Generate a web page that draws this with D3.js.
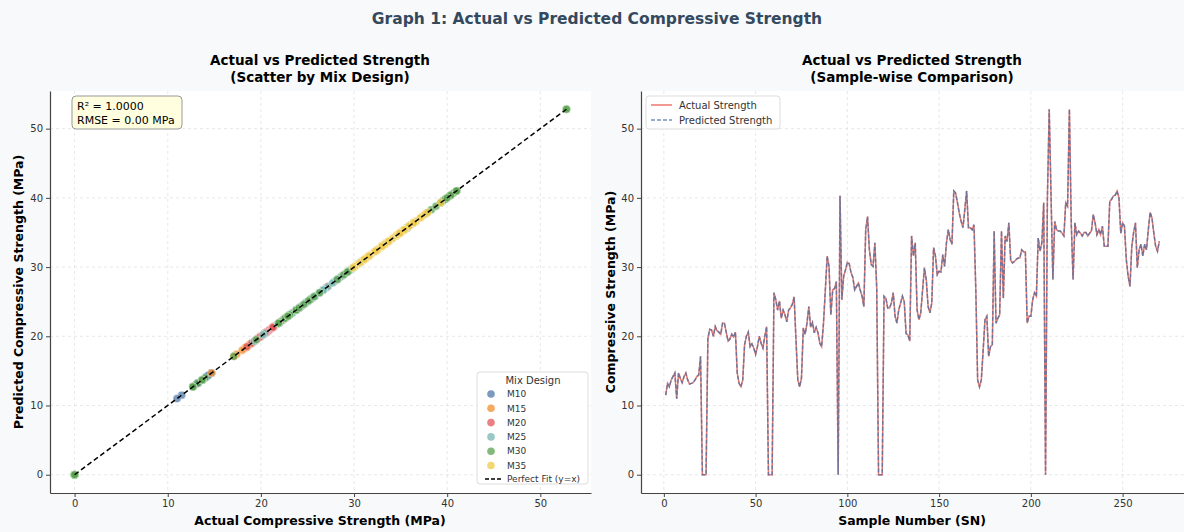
<!DOCTYPE html>
<html>
<head>
<meta charset="utf-8">
<script src="https://cdn.jsdelivr.net/npm/d3@7"></script>
<style>
  body { margin: 0; background: #f8f9fa; }
  svg { display: block; font-family: "DejaVu Sans", sans-serif; }
</style>
</head>
<body>
<div id="chart"></div>
<script>
// Actual strength per sample (SN 1..270)
const actual = [
  11.5, 13.2, 12.7, 13.7, 14.2, 14.7, 11.0, 14.7, 13.9, 13.3, 14.2, 14.7, 13.7, 13.1, 13.2, 13.3, 13.7, 14.2, 14.4, 17.1,
  0, 0, 0, 19.7, 21.0, 20.9, 20.0, 21.4, 20.8, 20.6, 20.3, 21.9, 21.9, 20.6, 19.3, 19.6, 20.3, 19.9, 20.6, 14.7,
  13.2, 12.7, 13.7, 18.8, 20.0, 20.6, 18.5, 18.9, 18.3, 17.4, 18.5, 20.0, 19.0, 18.3, 20.0, 21.4, 0, 0, 0, 26.3,
  25.3, 23.8, 25.1, 22.6, 23.8, 23.1, 22.1, 23.8, 24.1, 24.6, 25.7, 19.5, 13.7, 12.7, 14.0, 21.2, 20.3, 21.9, 24.3, 21.3,
  22.0, 20.5, 21.3, 20.5, 19.0, 18.5, 21.9, 26.7, 31.6, 30.1, 23.1, 26.7, 26.9, 27.9, 0, 40.3, 25.3, 28.7, 29.6, 30.7,
  30.5, 29.2, 28.5, 26.7, 27.2, 27.7, 26.7, 25.8, 24.3, 35.4, 37.3, 32.5, 30.4, 30.1, 33.5, 27.0, 0, 0, 0, 25.8,
  25.5, 24.1, 24.1, 24.8, 26.3, 22.9, 21.9, 23.8, 24.8, 25.8, 25.0, 20.4, 20.2, 19.3, 34.5, 31.6, 33.5, 23.8, 22.4, 23.4,
  26.7, 29.9, 28.2, 24.3, 23.4, 24.8, 32.8, 31.6, 28.9, 29.4, 29.3, 31.8, 30.1, 33.5, 35.4, 34.0, 33.3, 41.0, 40.7, 39.3,
  37.8, 36.6, 35.7, 38.3, 41.0, 35.7, 35.7, 35.4, 36.1, 26.7, 13.7, 12.7, 13.7, 18.0, 22.4, 22.9, 17.1, 18.5, 18.8, 35.2,
  21.9, 22.6, 23.1, 35.2, 25.5, 34.5, 33.7, 36.4, 31.0, 30.6, 30.8, 31.1, 31.3, 31.3, 32.5, 32.2, 32.2, 21.9, 22.9, 22.9,
  25.3, 26.3, 25.8, 34.2, 32.3, 33.5, 39.3, 0, 39.8, 52.8, 40.3, 28.2, 36.6, 35.4, 35.2, 35.2, 34.9, 34.5, 39.3, 38.8,
  52.8, 36.4, 28.2, 36.4, 34.7, 35.2, 34.9, 34.5, 35.0, 35.0, 34.5, 34.9, 35.2, 37.6, 36.4, 34.7, 35.4, 34.7, 35.9, 33.0,
  33.0, 33.0, 39.5, 39.8, 40.3, 40.4, 41.0, 40.0, 34.9, 36.4, 35.9, 31.1, 28.7, 27.2, 33.0, 35.0, 36.4, 29.9, 32.5, 33.3,
  31.6, 33.3, 32.5, 35.4, 37.9, 37.1, 34.9, 33.0, 32.3, 33.7
];
// model output overlaps the actual curve exactly (R² = 1, RMSE = 0)
const predicted = actual.slice();

// mix design of consecutive samples: [mix, count]
const mixRuns = [
  ["M10", 19], ["M30", 4], ["M20", 8], ["M25", 2], ["M20", 6], ["M15", 1], ["M30", 3],
  ["M15", 13], ["M30", 3], ["M30", 12], ["M30", 4], ["M20", 12], ["M25", 7], ["M30", 2],
  ["M25", 13], ["M35", 6], ["M20", 1], ["M30", 3], ["M25", 15],
  ["M35", 3], ["M25", 9], ["M35", 2], ["M30", 3], ["M35", 6],
  ["M30", 12], ["M15", 1], ["M30", 3], ["M15", 6],
  ["M35", 1], ["M30", 3], ["M35", 1], ["M25", 1], ["M35", 12], ["M30", 3], ["M25", 3], ["M35", 4],
  ["M30", 4], ["M30", 1], ["M35", 6], ["M30", 3],
  ["M35", 1], ["M20", 1], ["M35", 19],
  ["M30", 6], ["M35", 4], ["M15", 2], ["M35", 16]
];

const mixes = ["M10", "M15", "M20", "M25", "M30", "M35"];
const mixColors = ["#4e79a7", "#f28e2b", "#e15759", "#76b7b2", "#59a14f", "#edc948"];
const strengthTicks = [0, 10, 20, 30, 40, 50];
const sampleTicks = [0, 50, 100, 150, 200, 250];

// one mix label per sample
const mixOf = [];
mixRuns.forEach(([m, n]) => { for (let k = 0; k < n; k++) mixOf.push(m); });

const samples = actual.map((v, i) => ({ sn: i + 1, actual: v, predicted: predicted[i], mix: mixOf[i] }));

const width = 1184, height = 532;
const svg = d3.select("#chart").append("svg")
  .attr("width", width).attr("height", height);

svg.append("rect").attr("width", width).attr("height", height).attr("fill", "#f8f9fa");

// Títol general
svg.append("text")
  .attr("x", 597).attr("y", 24)
  .attr("text-anchor", "middle")
  .style("font-size", "15.5px").style("font-weight", "bold")
  .style("fill", "#34495e")
  .text("Graph 1: Actual vs Predicted Compressive Strength");

// Escales
const maxV = d3.max(actual), padV = maxV * 0.05;
const xA = d3.scaleLinear().domain([-padV, maxV + padV]).range([50, 591]);
const yA = d3.scaleLinear().domain([-padV, maxV + padV]).range([493, 91]);
const nS = samples.length, padS = (nS - 1) * 0.05;
const xS = d3.scaleLinear().domain([1 - padS, nS + padS]).range([641, 1184]);
const yS = yA.copy();

function panel(x, y, xTicks, yTicks) {
  const [x0, x1] = x.range(), [y1, y0] = y.range();
  const g = svg.append("g");
  g.append("rect").attr("x", x0).attr("y", y0).attr("width", x1 - x0).attr("height", y1 - y0).attr("fill", "#fff");
  // grid
  g.selectAll("line.gx").data(xTicks).enter().append("line")
    .attr("x1", d => x(d)).attr("x2", d => x(d)).attr("y1", y0).attr("y2", y1)
    .attr("stroke", "#d0d0d0").attr("stroke-width", 0.8).attr("stroke-dasharray", "3,3").attr("opacity", 0.6);
  g.selectAll("line.gy").data(yTicks).enter().append("line")
    .attr("y1", d => y(d)).attr("y2", d => y(d)).attr("x1", x0).attr("x2", x1)
    .attr("stroke", "#d0d0d0").attr("stroke-width", 0.8).attr("stroke-dasharray", "3,3").attr("opacity", 0.6);
  return g;
}

function axes(x, y, xTicks, yTicks) {
  const ax = svg.append("g").attr("transform", `translate(0,${y.range()[0]})`)
    .call(d3.axisBottom(x).tickValues(xTicks).tickSize(4).tickSizeOuter(0).tickPadding(3));
  const ay = svg.append("g").attr("transform", `translate(${x.range()[0]},0)`)
    .call(d3.axisLeft(y).tickValues(yTicks).tickSize(4).tickSizeOuter(0).tickPadding(3));
  [ax, ay].forEach(a => {
    a.select(".domain").attr("stroke", "#444").attr("stroke-width", 1.2);
    a.selectAll(".tick line").attr("stroke", "#444");
    a.selectAll("text").style("font-size", "10px").style("fill", "#333").style("font-family", "DejaVu Sans");
  });
}

// ---------- Panel esquerre: scatter ----------
const gL = panel(xA, yA, strengthTicks, strengthTicks);

mixes.forEach((m, i) => {
  gL.selectAll(`circle.${m}`)
    .data(samples.filter(d => d.mix === m))
    .enter().append("circle")
    .attr("cx", d => xA(d.actual)).attr("cy", d => yA(d.predicted))
    .attr("r", 4)
    .attr("fill", mixColors[i]).attr("fill-opacity", 0.75)
    .attr("stroke", "#fff").attr("stroke-width", 0.4);
});

const lo = d3.min(actual), hi = d3.max(actual);
gL.append("line")
  .attr("x1", xA(lo)).attr("y1", yA(lo)).attr("x2", xA(hi)).attr("y2", yA(hi))
  .attr("stroke", "#000").attr("stroke-width", 1.5).attr("stroke-dasharray", "5,3");

axes(xA, yA, strengthTicks, strengthTicks);

// R² box
svg.append("rect").attr("x", 72).attr("y", 96).attr("width", 110).attr("height", 33)
  .attr("rx", 4).attr("fill", "#ffffe0").attr("stroke", "#999").attr("stroke-width", 1);
svg.append("text").attr("x", 77).attr("y", 109.5).style("font-size", "11px").style("fill", "#000").text("R² = 1.0000");
svg.append("text").attr("x", 77).attr("y", 123.5).style("font-size", "11px").style("fill", "#000").text("RMSE = 0.00 MPa");

// llegenda esquerra
const lg = svg.append("g").attr("transform", "translate(477,372)");
lg.append("rect").attr("width", 111).attr("height", 112).attr("rx", 3)
  .attr("fill", "#fff").attr("fill-opacity", 0.9).attr("stroke", "#ddd");
lg.append("text").attr("x", 56).attr("y", 12).attr("text-anchor", "middle")
  .style("font-size", "10px").style("fill", "#333").text("Mix Design");
mixes.forEach((m, i) => {
  const yy = 22 + i * 14.3;
  lg.append("circle").attr("cx", 14).attr("cy", yy).attr("r", 3.8)
    .attr("fill", mixColors[i]).attr("fill-opacity", 0.75);
  lg.append("text").attr("x", 30).attr("y", yy + 3.2).style("font-size", "9px").style("fill", "#333").text(m);
});
lg.append("line").attr("x1", 8).attr("x2", 24).attr("y1", 107).attr("y2", 107)
  .attr("stroke", "#000").attr("stroke-width", 1.5).attr("stroke-dasharray", "4,2");
lg.append("text").attr("x", 30).attr("y", 110.2).style("font-size", "9px").style("fill", "#333").text("Perfect Fit (y=x)");

// ---------- Panel dret: línia ----------
const gR = panel(xS, yS, sampleTicks, strengthTicks);

const lineA = d3.line().x(d => xS(d.sn)).y(d => yS(d.actual));
const lineP = d3.line().x(d => xS(d.sn)).y(d => yS(d.predicted));

gR.append("path").datum(samples).attr("d", lineA)
  .attr("fill", "none").attr("stroke", "#e74c3c").attr("stroke-width", 1.5).attr("opacity", 0.75);
gR.append("path").datum(samples).attr("d", lineP)
  .attr("fill", "none").attr("stroke", "#4a6fa5").attr("stroke-width", 1.5)
  .attr("stroke-dasharray", "4,2").attr("opacity", 0.75);

axes(xS, yS, sampleTicks, strengthTicks);

const rg = svg.append("g").attr("transform", "translate(646,96)");
rg.append("rect").attr("width", 134).attr("height", 33).attr("rx", 3)
  .attr("fill", "#fff").attr("fill-opacity", 0.9).attr("stroke", "#ddd");
rg.append("line").attr("x1", 5).attr("x2", 26).attr("y1", 9).attr("y2", 9)
  .attr("stroke", "#e74c3c").attr("stroke-width", 1.5).attr("opacity", 0.75);
rg.append("text").attr("x", 33).attr("y", 12.5).style("font-size", "10px").style("fill", "#333").text("Actual Strength");
rg.append("line").attr("x1", 5).attr("x2", 26).attr("y1", 24).attr("y2", 24)
  .attr("stroke", "#4a6fa5").attr("stroke-width", 1.5).attr("stroke-dasharray", "4,2").attr("opacity", 0.75);
rg.append("text").attr("x", 33).attr("y", 27.5).style("font-size", "10px").style("fill", "#333").text("Predicted Strength");

// títols dels panells
[[320, "Actual vs Predicted Strength", "(Scatter by Mix Design)"],
 [912, "Actual vs Predicted Strength", "(Sample-wise Comparison)"]].forEach(([cx, t1, t2]) => {
  const t = svg.append("text").attr("x", cx).attr("y", 65).attr("text-anchor", "middle")
    .style("font-size", "13.5px").style("font-weight", "bold").style("fill", "#000");
  t.append("tspan").attr("x", cx).text(t1);
  t.append("tspan").attr("x", cx).attr("dy", 16.5).text(t2);
});

// etiquetes d'eixos
svg.append("text").attr("x", 320).attr("y", 525).attr("text-anchor", "middle")
  .style("font-size", "12.5px").style("font-weight", "bold").text("Actual Compressive Strength (MPa)");
svg.append("text").attr("x", 912).attr("y", 525).attr("text-anchor", "middle")
  .style("font-size", "12.5px").style("font-weight", "bold").text("Sample Number (SN)");
svg.append("text").attr("transform", "translate(23,292) rotate(-90)").attr("text-anchor", "middle")
  .style("font-size", "12.5px").style("font-weight", "bold").text("Predicted Compressive Strength (MPa)");
svg.append("text").attr("transform", "translate(615,292) rotate(-90)").attr("text-anchor", "middle")
  .style("font-size", "12.5px").style("font-weight", "bold").text("Compressive Strength (MPa)");
</script>
</body>
</html>
